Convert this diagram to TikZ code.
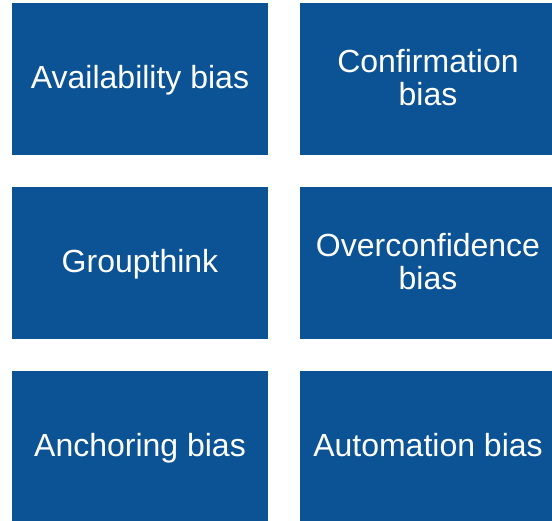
\documentclass[tikz,border=0pt]{standalone}
\usepackage{fontspec}
\setmainfont{Liberation Sans}
\definecolor{boxblue}{HTML}{0B5394}
\newcommand{\bstrut}{\rule[-6.8pt]{0pt}{33pt}}
\begin{document}
\begin{tikzpicture}[x=1pt,y=-1pt,
  biasbox/.style={rectangle, fill=boxblue, draw=none, inner sep=0pt,
    minimum width=256pt, minimum height=152pt, text=white, align=center,
    font=\fontsize{32}{33}\selectfont}]
\useasboundingbox (0,0) rectangle (552,521);
\node[biasbox] (avail) at (140,79) {\bstrut Availability bias};
\node[biasbox] (confirm) at (428,79) {\bstrut Confirmation\\\bstrut bias};
\node[biasbox] (group) at (140,263) {\bstrut Groupthink};
\node[biasbox] (overconf) at (428,263) {\bstrut Overconfidence\\\bstrut bias};
\node[biasbox] (anchor) at (140,447) {\bstrut Anchoring bias};
\node[biasbox] (autom) at (428,447) {\bstrut Automation bias};
\end{tikzpicture}
\end{document}
